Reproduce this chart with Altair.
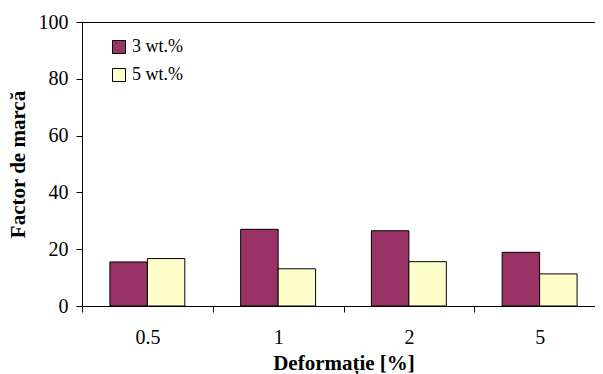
import altair as alt
import pandas as pd

categories = ["0.5", "1", "2", "5"]
series = ["3 wt.%", "5 wt.%"]
values_3 = [15.5, 27.0, 26.5, 18.9]
values_5 = [16.7, 13.1, 15.6, 11.3]
colors = ["#993366", "#FFFFCC"]

rows = []
for c, a, b in zip(categories, values_3, values_5):
    rows.append({"cat": c, "series": series[0], "val": a})
    rows.append({"cat": c, "series": series[1], "val": b})
df = pd.DataFrame(rows)

FONT = "Liberation Serif"

chart = alt.Chart(df).mark_bar(stroke="black", strokeWidth=1).encode(
    x=alt.X("cat:N", sort=categories, title="Deformație [%]",
            scale=alt.Scale(paddingInner=0, paddingOuter=0),
            axis=alt.Axis(labelAngle=0, tickBand="extent", domainColor="black",
                          tickColor="black", tickSize=6, labelPadding=15,
                          labelFontSize=20, labelColor="black", labelFont=FONT,
                          titleFont=FONT, titleFontSize=21, titleFontWeight="bold",
                          titleColor="black", titlePadding=5, grid=False)),
    xOffset=alt.XOffset("series:N", sort=series,
                        scale=alt.Scale(paddingOuter=0.745, paddingInner=0)),
    y=alt.Y("val:Q", title="Factor de marcă",
            scale=alt.Scale(domain=[0, 100]),
            axis=alt.Axis(values=[0, 20, 40, 60, 80, 100], grid=False,
                          domainColor="black", tickColor="black", tickSize=6,
                          labelPadding=8, labelFontSize=20, labelColor="black",
                          labelFont=FONT, titleFont=FONT, titleFontSize=21,
                          titleFontWeight="bold", titleColor="black", titlePadding=10)),
    color=alt.Color("series:N", sort=series,
                    scale=alt.Scale(domain=series, range=colors),
                    legend=alt.Legend(title=None, orient="none", legendX=28, legendY=16,
                                      symbolType="square", symbolSize=169,
                                      symbolStrokeColor="black", symbolStrokeWidth=1,
                                      labelFont=FONT, labelFontSize=18, labelColor="black",
                                      rowPadding=10, labelOffset=4)),
).properties(
    width=523, height=284,
    autosize=alt.AutoSizeParams(type="none"),
    padding={"left": 74, "top": 14, "right": -10, "bottom": 72},
).configure_view(stroke="black", strokeWidth=1)

chart.save("out.html", embed_options={"renderer": "svg", "actions": False})
